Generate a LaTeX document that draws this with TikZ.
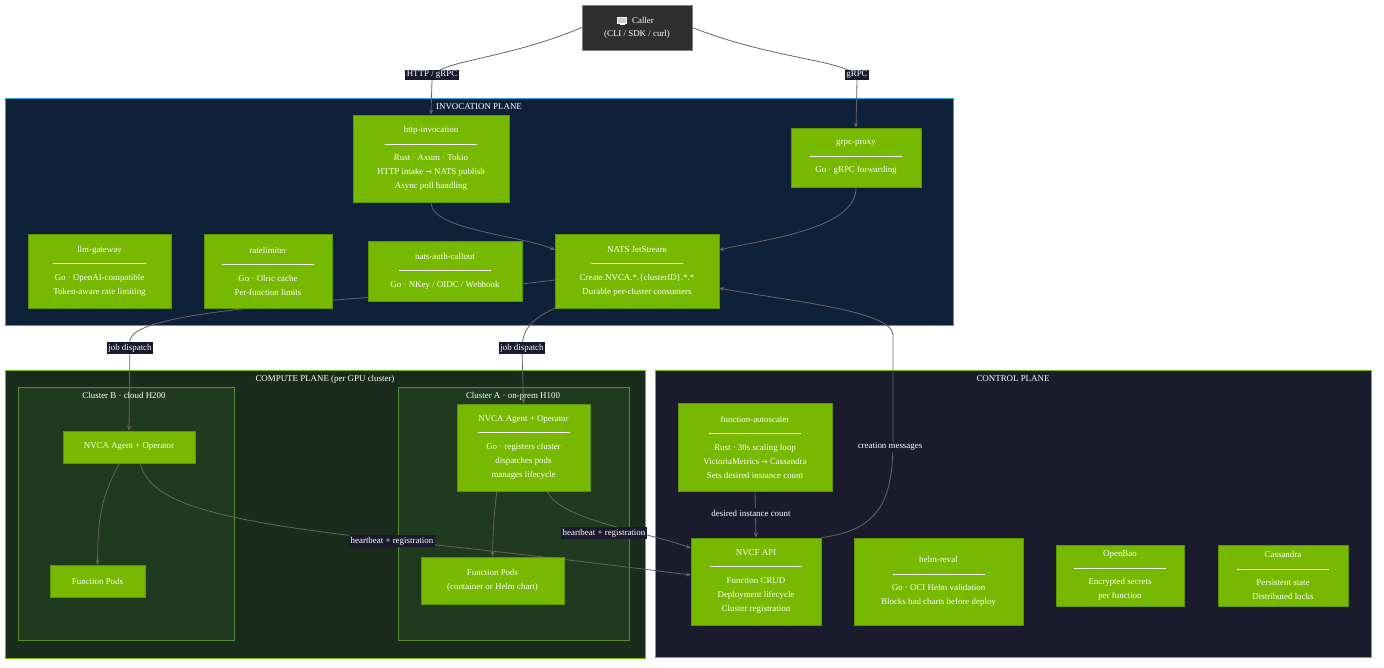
\documentclass[tikz,border=0pt]{standalone}
\usepackage{fontspec}
\setmainfont{Liberation Serif}
\newfontfamily\djv{DejaVu Sans}
\usetikzlibrary{arrows.meta}
\definecolor{nv}{HTML}{76B900}
\definecolor{nvd}{HTML}{5E9400}
\definecolor{invbg}{HTML}{0F2138}
\definecolor{invbd}{HTML}{2AA4E0}
\definecolor{cmpbg}{HTML}{1B2B1B}
\definecolor{clbg}{HTML}{1F3A1F}
\definecolor{clbd}{HTML}{5A8A3A}
\definecolor{ctlbg}{HTML}{1B1B2E}
\definecolor{lblbg}{HTML}{1A1A2E}
\definecolor{edge}{HTML}{666666}
\pgfdeclarelayer{bg}\pgfdeclarelayer{mid}\pgfsetlayers{bg,mid,main}
\newcommand{\bx}[5]{\node[box,minimum width=#4-#2,minimum height=#5-#3] (#1) at ({(#2+#4)/2},{(#3+#5)/2}) {};}
\newcommand{\hr}{\rule[2.5pt]{92pt}{0.5pt}}
\newcommand{\arr}{{\djv\fontsize{7.5}{6}\selectfont →}}
\begin{document}
\begin{tikzpicture}[x=1pt,y=-1pt,
  box/.style={draw=nvd,fill=nv,line width=0.8pt,inner sep=0pt},
  txt/.style={text=white,align=center,font=\fontsize{8.9}{14}\selectfont},
  zone/.style={line width=1pt},
  ttl/.style={text=white,font=\fontsize{8.9}{9}\selectfont,anchor=north},
  lbl/.style={fill=lblbg,text=white,font=\fontsize{8.9}{9}\selectfont,inner sep=1.5pt},
  plbl/.style={text=white,font=\fontsize{8.9}{9}\selectfont,inner sep=1.5pt},
  e/.style={draw=edge,line width=0.8pt,-{Stealth[length=5pt,width=4pt]}}]
\useasboundingbox (0,0) rectangle (1384,667);
\begin{pgfonlayer}{bg}
\fill[white] (0,0) rectangle (1384,667);
\node[zone,draw=invbd,fill=invbg,minimum width=948,minimum height=227,inner sep=0] (inv) at (479,211.5) {};
\node[zone,draw=nv,fill=cmpbg,minimum width=640,minimum height=288,inner sep=0] (cmp) at (325,514) {};
\node[zone,draw=nv,fill=ctlbg,minimum width=716,minimum height=287,inner sep=0] (ctl) at (1013,513.5) {};
\node[draw=clbd,fill=clbg,line width=0.6pt,minimum width=216,minimum height=253,inner sep=0] (clB) at (126,513.5) {};
\node[draw=clbd,fill=clbg,line width=0.6pt,minimum width=231,minimum height=253,inner sep=0] (clA) at (513.5,513.5) {};
\end{pgfonlayer}
\node[ttl] (invt) at (479,100) {INVOCATION PLANE};
\node[ttl] (cmpt) at (325,372) {COMPUTE PLANE (per GPU cluster)};
\node[ttl] (ctlt) at (1013,372) {CONTROL PLANE};
\node[ttl] (clBt) at (124,389) {Cluster B · cloud H200};
\node[ttl] (clAt) at (513,389) {Cluster A · on-prem H100};
% caller
\node[draw=gray,fill=black!82,minimum width=110,minimum height=45,inner sep=0,txt,font=\fontsize{8.9}{13}\selectfont] (caller) at (637,27.5) {\hspace*{12pt}Caller\\(CLI / SDK / curl)};
\node[draw=white,fill=gray!40,line width=0.5pt,minimum width=9,minimum height=6,inner sep=0] (mon) at (622,20) {};
\node[fill=white,minimum width=5,minimum height=1,inner sep=0] (monb) at (622,24.5) {};
% boxes
\bx{http}{353}{115}{509}{202}
\bx{grpc}{791}{128}{921}{187}
\bx{llm}{28}{234}{171}{308}
\bx{rate}{204}{234}{332}{308}
\bx{auth}{368}{241}{522}{301}
\bx{nats}{555}{234}{719}{308}
\bx{agB}{63}{431}{195}{463}
\bx{podB}{50}{565}{145}{597}
\bx{agA}{457}{404}{590}{491}
\bx{podA}{421}{557}{564}{604}
\bx{auto}{678}{403}{832}{491}
\bx{api}{691}{538}{821}{625}
\bx{helm}{854}{538}{1023}{625}
\bx{bao}{1056}{545}{1184}{606}
\bx{cas}{1218}{545}{1348}{606}
% texts
\node[txt] (httpT) at (http) {http-invocation\\\hr\\Rust · Axum · Tokio\\HTTP intake \arr{} NATS publish\\Async poll handling};
\node[txt] (grpcT) at (grpc) {grpc-proxy\\\hr\\Go · gRPC forwarding};
\node[txt] (llmT) at (llm) {llm-gateway\\\hr\\Go · OpenAI-compatible\\Token-aware rate limiting};
\node[txt] (rateT) at (rate) {ratelimiter\\\hr\\Go · Olric cache\\Per-function limits};
\node[txt] (authT) at (auth) {nats-auth-callout\\\hr\\Go · NKey / OIDC / Webhook};
\node[txt] (natsT) at (nats) {NATS JetStream\\\hr\\Create.NVCA.*.\{clusterID\}.*.*\\Durable per-cluster consumers};
\node[txt] (agBT) at (agB) {NVCA Agent + Operator};
\node[txt] (podBT) at (podB) {Function Pods};
\node[txt] (agAT) at (agA) {NVCA Agent + Operator\\\hr\\Go · registers cluster\\dispatches pods\\manages lifecycle};
\node[txt] (podAT) at (podA) {Function Pods\\(container or Helm chart)};
\node[txt] (autoT) at (auto) {function-autoscaler\\\hr\\Rust · 30s scaling loop\\VictoriaMetrics \arr{} Cassandra\\Sets desired instance count};
\node[txt] (apiT) at (api) {NVCF API\\\hr\\Function CRUD\\Deployment lifecycle\\Cluster registration};
\node[txt] (helmT) at (helm) {helm-reval\\\hr\\Go · OCI Helm validation\\Blocks bad charts before deploy};
\node[txt] (baoT) at (bao) {OpenBao\\\hr\\Encrypted secrets\\per function};
\node[txt] (casT) at (cas) {Cassandra\\\hr\\Persistent state\\Distributed locks};
% edges
\begin{pgfonlayer}{mid}
\draw[e] (caller.west) .. controls (500,62) and (432,60) .. (432,80) -- (http.north);
\draw[e] (caller.east) .. controls (780,62) and (857,60) .. (857,80) -- (grpc.north);
\draw[e] (http.south) .. controls (431,230) and (520,235) .. (555,250);
\draw[e] (grpc.south) .. controls (857,230) and (760,240) .. (719,250);
\draw[e] (555,280) .. controls (400,300) and (135,305) .. (130,340) -- (agB.north);
\draw[e] (555,308) .. controls (530,320) and (522,330) .. (522,350) -- (agA.north);
\draw[e] (auto.south) -- (api.north);
\draw[e] (api.north east) .. controls (880,530) and (893,500) .. (893,440) -- (893,335) .. controls (893,310) and (780,300) .. (719,288);
\draw[e] (140,463) .. controls (150,500) and (200,520) .. (400,541) .. controls (550,557) and (650,570) .. (691,575);
\draw[e] (547,491) .. controls (560,520) and (640,530) .. (691,548);
\draw[e] (120,463) .. controls (98,500) and (98,530) .. (podB.north);
\draw[e] (497,491) .. controls (493,520) and (493,540) .. (podA.north);
\end{pgfonlayer}
% labels
\node[lbl] (l1) at (432,75) {HTTP / gRPC};
\node[lbl] (l2) at (857,75) {gRPC};
\node[lbl] (l3) at (130,348) {job dispatch};
\node[lbl] (l4) at (522,348) {job dispatch};
\node[lbl] (l5) at (392,541) {heartbeat + registration};
\node[lbl] (l6) at (604,533) {heartbeat + registration};
\node[plbl,fill=ctlbg] (l7) at (890,447) {creation messages};
\node[plbl,fill=ctlbg] (l8) at (751,513) {desired instance count};
\end{tikzpicture}
\end{document}
